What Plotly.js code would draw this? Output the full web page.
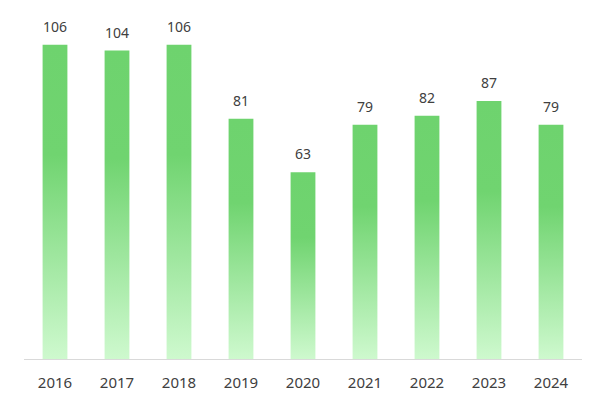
<!DOCTYPE html>
<html>
<head>
<meta charset="utf-8">
<script src="https://cdn.plot.ly/plotly-3.0.1.min.js"></script>
<style>
html,body{margin:0;padding:0;background:#fff;}
#chart{width:600px;height:400px;}
</style>
</head>
<body>
<div id="chart"></div>
<script>
const years = ["2016","2017","2018","2019","2020","2021","2022","2023","2024"];
const values = [106,104,106,81,63,79,82,87,79];

const trace = {
  type: "bar",
  x: years,
  y: values,
  marker: {color: "rgb(110,212,110)", line: {width: 0}},
  hoverinfo: "none"
};

// category axis: annotation x given as category index
const annotations = years.map((yr, i) => ({
  x: i, y: values[i], text: String(values[i]),
  xref: "x", yref: "y",
  showarrow: false, yanchor: "bottom", yshift: 7,
  font: {family: "Noto Sans, Open Sans, sans-serif", size: 14, color: "#404040"}
}));

const layout = {
  width: 600, height: 400,
  margin: {l: 24, r: 18, t: 18, b: 41},
  paper_bgcolor: "#ffffff",
  plot_bgcolor: "#ffffff",
  bargap: 0.6,
  showlegend: false,
  xaxis: {
    type: "category",
    categoryorder: "array",
    categoryarray: years,
    range: [-0.5, years.length - 0.5],
    showgrid: false,
    zeroline: false,
    showline: true,
    linecolor: "#d9d9d9",
    linewidth: 1,
    ticks: "",
    ticklen: 0,
    ticklabelstandoff: 10,
    tickfont: {family: "Noto Sans, Open Sans, sans-serif", size: 15, color: "#404040"},
    automargin: false
  },
  yaxis: {
    range: [0, 115],
    showgrid: false,
    zeroline: false,
    showline: false,
    showticklabels: false,
    ticks: "",
    fixedrange: true
  },
  annotations: annotations
};

Plotly.newPlot("chart", [trace], layout, {displayModeBar: false, staticPlot: true}).then(function(gd){
  const svgNS = "http://www.w3.org/2000/svg";
  const svg = gd.querySelector("svg.main-svg");
  let defs = svg.querySelector("defs");
  if (!defs) { defs = document.createElementNS(svgNS, "defs"); svg.insertBefore(defs, svg.firstChild); }
  const grad = document.createElementNS(svgNS, "linearGradient");
  grad.setAttribute("id", "barGrad");
  grad.setAttribute("x1", "0"); grad.setAttribute("y1", "0");
  grad.setAttribute("x2", "0"); grad.setAttribute("y2", "1");
  [["0", "rgb(110,211,110)"], ["0.35", "rgb(112,212,112)"], ["1", "rgb(206,249,206)"]].forEach(function(s){
    const st = document.createElementNS(svgNS, "stop");
    st.setAttribute("offset", s[0]);
    st.setAttribute("stop-color", s[1]);
    grad.appendChild(st);
  });
  defs.appendChild(grad);
  gd.querySelectorAll(".bars .point path").forEach(function(p){
    p.style.fill = "url(#barGrad)";
    p.style.fillOpacity = 1;
  });
});
</script>
</body>
</html>
